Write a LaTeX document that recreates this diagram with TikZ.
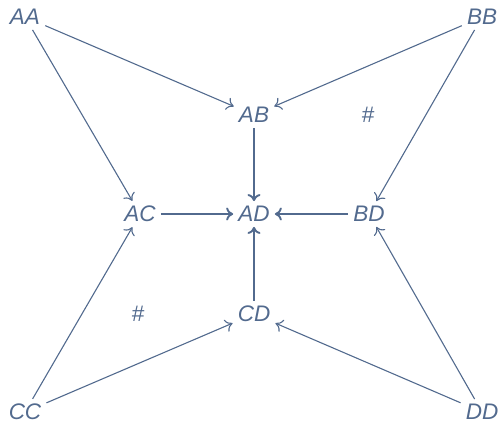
\documentclass[tikz,border=0pt]{standalone}
\usepackage{fontspec}
\setmainfont{Liberation Sans}
\usetikzlibrary{arrows.meta}
\definecolor{ink}{RGB}{82,106,142}
\begin{document}
\begin{tikzpicture}[x=1pt,y=-1pt,
  lbl/.style={text=ink,font=\fontsize{22.5}{26}\selectfont\itshape,inner sep=5pt},
  thin/.style={draw=ink,line width=1.1pt,-{To[length=7pt,width=13pt]}},
  thick/.style={draw=ink,line width=1.9pt,-{To[length=7pt,width=13pt]}}]
\useasboundingbox (0,0) rectangle (500,424);
\node[lbl] (AA) at (25,17) {AA};
\node[lbl] (BB) at (482,17) {BB};
\node[lbl] (AB) at (254,115) {AB};
\node[lbl] (AC) at (140,214) {AC};
\node[lbl] (AD) at (254,214) {AD};
\node[lbl] (BD) at (369,214) {BD};
\node[lbl] (CD) at (254,314) {CD};
\node[lbl] (CC) at (25,412) {CC};
\node[lbl] (DD) at (482,412) {DD};
\node[lbl] (h1) at (368,115) {\#};
\node[lbl] (h2) at (138,314) {\#};
\draw[thin] (AA) -- (AB);
\draw[thin] (BB) -- (AB);
\draw[thin] (AA) -- (AC);
\draw[thin] (BB) -- (BD);
\draw[thin] (CC) -- (AC);
\draw[thin] (CC) -- (CD);
\draw[thin] (DD) -- (CD);
\draw[thin] (DD) -- (BD);
\draw[thick] (AB) -- (AD);
\draw[thick] (AC) -- (AD);
\draw[thick] (BD) -- (AD);
\draw[thick] (CD) -- (AD);
\end{tikzpicture}
\end{document}
